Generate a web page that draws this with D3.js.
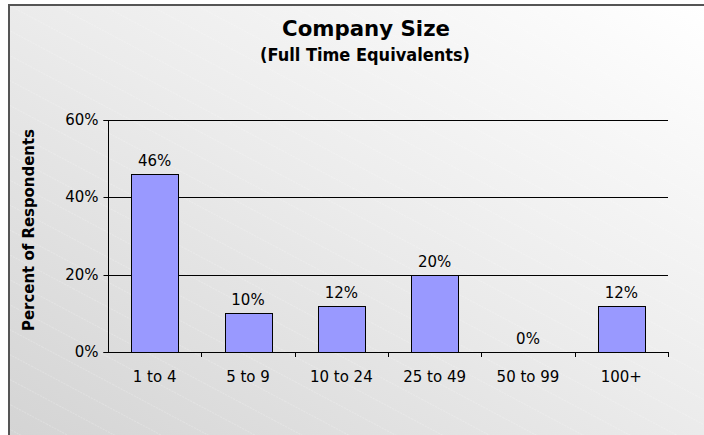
<!DOCTYPE html>
<html>
<head>
<meta charset="utf-8">
<script src="https://cdn.jsdelivr.net/npm/d3@7"></script>
<style>
  html, body { margin: 0; padding: 0; background: #fff; }
  svg { display: block; }
  text { font-family: "DejaVu Sans", Verdana, sans-serif; }
</style>
</head>
<body>
<svg id="chart" width="704" height="435"></svg>
<script>
// Survey results: company size in full time equivalents
const categories = ["1 to 4", "5 to 9", "10 to 24", "25 to 49", "50 to 99", "100+"];
const percents = [46, 10, 12, 20, 0, 12];
const yTicks = [0, 20, 40, 60];
const titleText = "Company Size";
const subtitleText = "(Full Time Equivalents)";
const yAxisTitle = "Percent of Respondents";

const svg = d3.select("#chart");
const W = 704, H = 435;
const plot = { left: 108, right: 668, top: 120, bottom: 352 };
const labelSize = 15;

// Background panel: soft diagonal grey gradient with faint stripes
const defs = svg.append("defs");
const grad = defs.append("linearGradient")
  .attr("id", "bg").attr("x1", "0").attr("y1", "1").attr("x2", "1").attr("y2", "0");
grad.append("stop").attr("offset", "0").attr("stop-color", "#d4d4d4");
grad.append("stop").attr("offset", "0.5").attr("stop-color", "#ebebeb");
grad.append("stop").attr("offset", "1").attr("stop-color", "#ffffff");

const pat = defs.append("pattern")
  .attr("id", "stripes").attr("patternUnits", "userSpaceOnUse")
  .attr("width", 40).attr("height", 22)
  .attr("patternTransform", "rotate(28)");
pat.append("line").attr("x1", 0).attr("y1", 0).attr("x2", 40).attr("y2", 0)
  .attr("stroke", "#ffffff").attr("stroke-width", 1).attr("stroke-opacity", 0.4)
  .attr("stroke-dasharray", "2,1");

svg.append("rect").attr("x", 9).attr("y", 5).attr("width", W - 9).attr("height", H - 5)
  .attr("fill", "url(#bg)");
svg.append("rect").attr("x", 9).attr("y", 5).attr("width", W - 9).attr("height", H - 5)
  .attr("fill", "url(#stripes)");
// Frame edges (top and left)
svg.append("path").attr("d", `M9,${H} V5 H${W}`)
  .attr("fill", "none").attr("stroke", "#555").attr("stroke-width", 2);

// Titles
svg.append("text").attr("x", 366).attr("y", 36).attr("text-anchor", "middle")
  .attr("font-size", 21).attr("font-weight", "bold").attr("fill", "#000")
  .attr("textLength", 168).attr("lengthAdjust", "spacingAndGlyphs")
  .text(titleText);
svg.append("text").attr("x", 365).attr("y", 61).attr("text-anchor", "middle")
  .attr("font-size", 17).attr("font-weight", "bold").attr("fill", "#000")
  .attr("textLength", 210).attr("lengthAdjust", "spacingAndGlyphs")
  .text(subtitleText);

// Scales
const x = d3.scaleBand().domain(categories).range([plot.left, plot.right]).paddingInner(0.5).paddingOuter(0.25);
const xBounds = d3.scaleLinear().domain([0, categories.length]).range([plot.left, plot.right]);
const y = d3.scaleLinear().domain([0, 60]).range([plot.bottom, plot.top]);

// Horizontal gridlines
svg.append("g").selectAll("line").data(yTicks.filter(d => d > 0)).join("line")
  .attr("x1", plot.left).attr("x2", plot.right)
  .attr("y1", d => Math.round(y(d)) + 0.5).attr("y2", d => Math.round(y(d)) + 0.5)
  .attr("stroke", "#000").attr("stroke-width", 1);

// Y axis
const yAxis = d3.axisLeft(y).tickValues(yTicks).tickSize(5).tickPadding(5)
  .tickFormat(d => d + "%");
const gy = svg.append("g").attr("transform", `translate(${plot.left + 0.5},0.5)`).call(yAxis);
gy.select(".domain").attr("stroke", "#000").attr("d", `M-5,${Math.round(y(60))}H0V${Math.round(y(0))}H-5`);
gy.selectAll(".tick line").attr("stroke", "#000");
gy.selectAll(".tick").attr("transform", d => `translate(0,${Math.round(y(d))})`);
gy.selectAll(".tick text").attr("font-size", labelSize).attr("fill", "#000")
  .attr("font-family", '"DejaVu Sans", Verdana, sans-serif');

// Y axis title
svg.append("text")
  .attr("transform", "translate(34,230) rotate(-90)")
  .attr("text-anchor", "middle").attr("font-size", 16).attr("font-weight", "bold")
  .attr("textLength", 202).attr("lengthAdjust", "spacingAndGlyphs")
  .attr("fill", "#000").text(yAxisTitle);

// Bars
svg.append("g").selectAll("rect").data(percents).join("rect")
  .attr("x", (d, i) => Math.round(x(categories[i])) + 0.5)
  .attr("y", d => Math.round(y(d)) + 0.5)
  .attr("width", Math.round(x.bandwidth()))
  .attr("height", d => Math.round(y(0)) - Math.round(y(d)))
  .attr("fill", "#9999ff").attr("stroke", "#000").attr("stroke-width", 1)
  .attr("display", d => d > 0 ? null : "none");

// Value labels
svg.append("g").selectAll("text").data(percents).join("text")
  .attr("x", (d, i) => x(categories[i]) + x.bandwidth() / 2)
  .attr("y", d => y(d) - 8)
  .attr("text-anchor", "middle").attr("font-size", labelSize).attr("fill", "#000")
  .text(d => d + "%");

// X axis baseline with tick marks at category boundaries
const gx = svg.append("g");
gx.append("line").attr("x1", plot.left).attr("x2", plot.right)
  .attr("y1", Math.round(y(0)) + 0.5).attr("y2", Math.round(y(0)) + 0.5)
  .attr("stroke", "#000");
gx.selectAll("line.tk").data(d3.range(1, categories.length + 1)).join("line")
  .attr("class", "tk")
  .attr("x1", d => Math.round(xBounds(d)) + 0.5).attr("x2", d => Math.round(xBounds(d)) + 0.5)
  .attr("y1", Math.round(y(0))).attr("y2", Math.round(y(0)) + 5)
  .attr("stroke", "#000");
gx.selectAll("text").data(categories).join("text")
  .attr("x", d => x(d) + x.bandwidth() / 2)
  .attr("y", Math.round(y(0)) + 30)
  .attr("text-anchor", "middle").attr("font-size", labelSize).attr("fill", "#000")
  .text(d => d);
</script>
</body>
</html>
